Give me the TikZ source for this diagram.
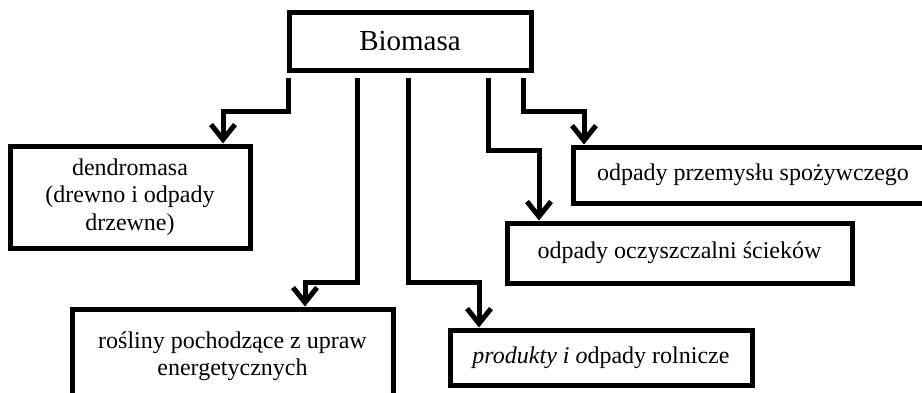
\documentclass[tikz,border=0pt]{standalone}
\usepackage{fontspec}
\setmainfont{Liberation Serif}
\usetikzlibrary{arrows.meta}
\begin{document}
\begin{tikzpicture}[x=1pt,y=-1pt,
  box/.style={draw, line width=5pt, rectangle, inner sep=0pt, align=center,
    font=\fontsize{24pt}{27.5pt}\selectfont},
  conn/.style={line width=5pt, -{Straight Barb[length=15pt,width=24pt]}}]
\useasboundingbox (0,0) rectangle (922,392);
\clip (0,0) rectangle (922,392);
\node[box, minimum width=242pt, minimum height=58pt, font=\fontsize{29pt}{32pt}\selectfont] (bio) at (410,41) {Biomasa};
\node[box, minimum width=240pt, minimum height=102pt] (dend) at (130,197) {\raisebox{-4pt}{\begin{tabular}{@{}c@{}}dendromasa\\(drewno i odpady\\drzewne)\end{tabular}}};
\node[box, minimum width=321pt, minimum height=94pt] (ros) at (232.5,356) {rośliny pochodzące z upraw\\energetycznych};
\node[box, minimum width=302pt, minimum height=55pt] (prod) at (601,357.5) {\textit{produkty i o}dpady rolnicze};
\node[box, minimum width=345pt, minimum height=60pt] (ocz) at (679.5,253) {odpady oczyszczalni ścieków};
\node[box, minimum width=360pt, minimum height=56pt] (spoz) at (753,175) {odpady przemysłu spożywczego};
\coordinate (s1) at (288,78);  \coordinate (k1) at (223,111);
\coordinate (s2) at (357,78);  \coordinate (k2) at (305,282);
\coordinate (s3) at (408,78);  \coordinate (k3) at (479,282);
\coordinate (s4) at (488,78);  \coordinate (k4) at (539,150);
\coordinate (s5) at (523,78);  \coordinate (k5) at (584,111);
\draw[conn] (s1) |- (k1) -- (k1 |- dend.north);
\draw[conn] (s2) |- (k2) -- (k2 |- ros.north);
\draw[conn] (s3) |- (k3) -- (k3 |- prod.north);
\draw[conn] (s4) |- (k4) -- (k4 |- ocz.north);
\draw[conn] (s5) |- (k5) -- (k5 |- spoz.north);
\end{tikzpicture}
\end{document}
